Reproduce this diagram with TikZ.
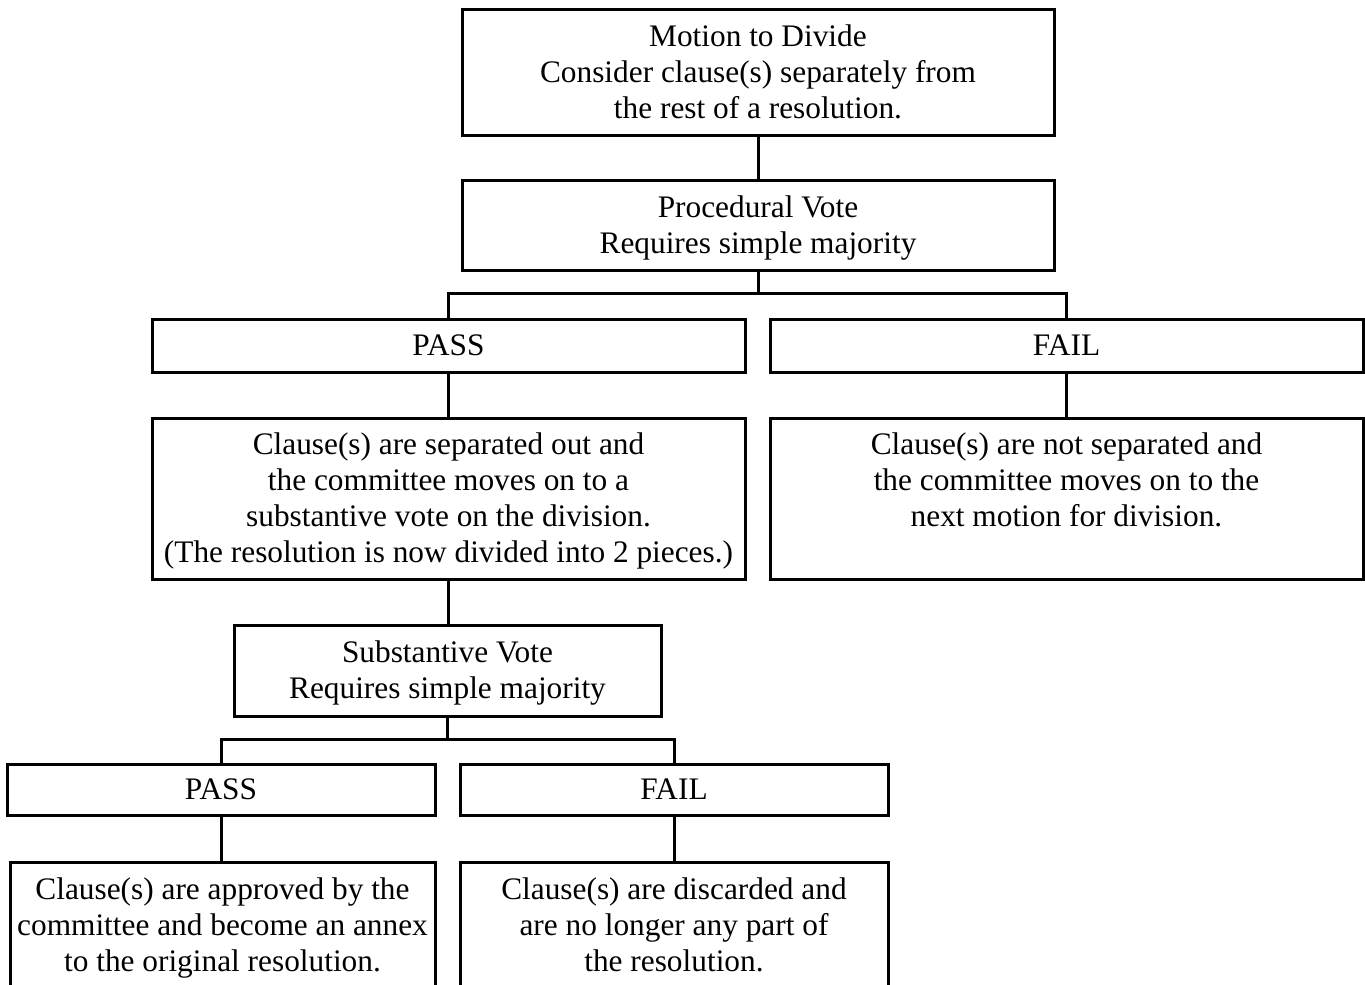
\documentclass[tikz,border=0pt]{standalone}
\usepackage{fontspec}
\setmainfont{Liberation Serif}
\newcommand\lnst{\rule[-5.85pt]{0pt}{27pt}}
\begin{document}
\begin{tikzpicture}[x=0.75pt,y=-0.75pt,
  box/.style 2 args={draw, line width=2.25pt, inner sep=0pt, align=center,
    minimum width=#1*0.75pt, minimum height=#2*0.75pt,
    font=\fontsize{23.5}{27}\selectfont},
  link/.style={line width=2.25pt}]
\clip (0,0) rectangle (1365,985);
\node[box={592}{126}] (motion) at (758,72) {\lnst Motion to Divide\\\lnst Consider clause(s) separately from\\\lnst the rest of a resolution.};
\node[box={592}{90}] (proc) at (758,225) {\lnst Procedural Vote\\\lnst Requires simple majority};
\node[box={593}{53}] (pass1) at (448.5,345.5) {\lnst PASS};
\node[box={593}{53}] (fail1) at (1066.5,345.5) {\lnst FAIL};
\node[box={593}{161}] (sep) at (448.5,498.5) {\lnst Clause(s) are separated out and\\\lnst the committee moves on to a\\\lnst substantive vote on the division.\\\lnst (The resolution is now divided into 2 pieces.)};
\node[box={593}{161}] (notsep) at (1066.5,498.5) {\lnst Clause(s) are not separated and\\\lnst the committee moves on to the\\\lnst next motion for division.\\\lnst};
\node[box={427}{91}] (subst) at (447.5,670.5) {\lnst Substantive Vote\\\lnst Requires simple majority};
\node[box={428}{51}] (pass2) at (221,789.5) {\lnst PASS};
\node[box={428}{51}] (fail2) at (674,789.5) {\lnst FAIL};
\node[box={425}{126}] (appr) at (222.5,925) {\lnst Clause(s) are approved by the\\\lnst committee and become an annex\\\lnst to the original resolution.};
\node[box={428}{126}] (disc) at (674,925) {\lnst Clause(s) are discarded and\\\lnst are no longer any part of\\\lnst the resolution.};
\draw[link] (motion.south) -- (proc.north);
\draw[link] (proc.south) -- ++(0,22) -| (pass1.north);
\draw[link] (proc.south) -- ++(0,22) -| (fail1.north);
\draw[link] (pass1.south) -- (sep.north);
\draw[link] (fail1.south) -- (notsep.north);
\draw[link] (sep.south) -- (sep.south |- subst.north);
\draw[link] (subst.south) -- ++(0,22) -| (pass2.north);
\draw[link] (subst.south) -- ++(0,22) -| (fail2.north);
\draw[link] (pass2.south) -- (pass2.south |- appr.north);
\draw[link] (fail2.south) -- (disc.north);
\end{tikzpicture}
\end{document}
